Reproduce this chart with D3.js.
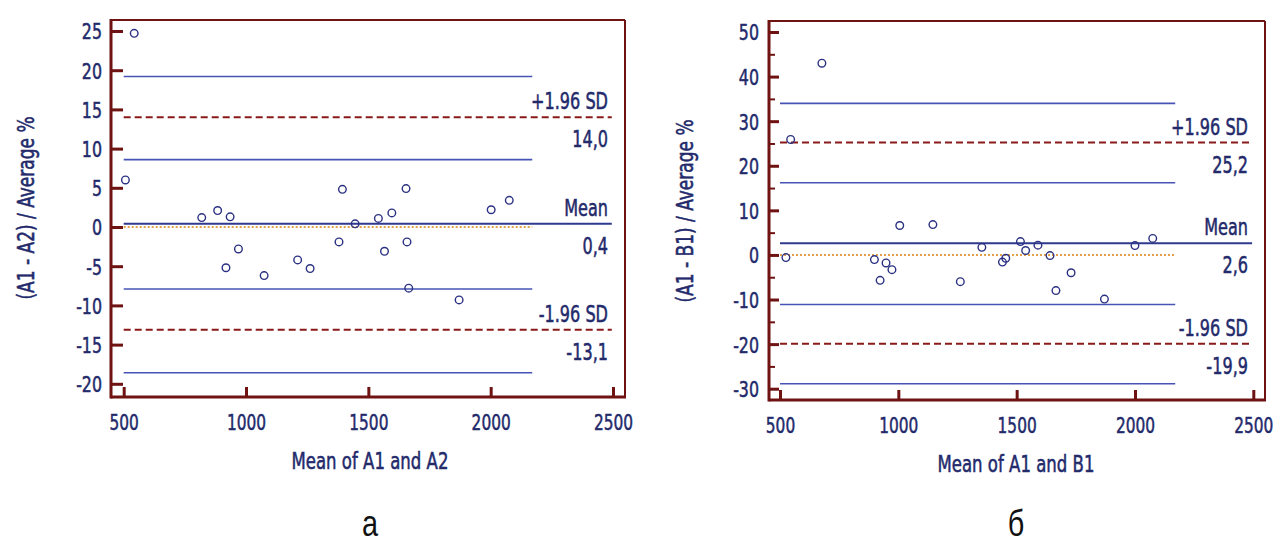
<!DOCTYPE html>
<html><head><meta charset="utf-8">
<script src="https://cdn.jsdelivr.net/npm/d3@7"></script>
<style>body{margin:0;background:#fff} svg{display:block}</style>
</head><body><svg id="c" width="1277" height="551"></svg>
<script>
// ---------- data ----------
const xTicks = [500, 1000, 1500, 2000, 2500];
const yTicksA = [-20, -15, -10, -5, 0, 5, 10, 15, 20, 25];
const yTicksB = [-30, -20, -10, 0, 10, 20, 30, 40, 50];
const yMinorB = [-25, -15, -5, 5, 15, 25, 35, 45];

// panel a: mean of A1 and A2 vs (A1-A2)/average %
const meanA = [543, 507, 819, 884, 935, 918, 969, 1074, 1211, 1262, 1380, 1394, 1446, 1541, 1566, 1596, 1654, 1658, 1665, 1871, 2002, 2076];
const diffA = [24.7, 6.0, 1.2, 2.1, 1.3, -5.2, -2.8, -6.2, -4.2, -5.3, -1.9, 4.8, 0.4, 1.1, -3.1, 1.8, 4.9, -1.9, -7.8, -9.3, 2.2, 3.4];
const biasA = 0.4, upperA = 14.0, lowerA = -13.1;
const ciA = [19.2, 8.6, -7.9, -18.6];

// panel b: mean of A1 and B1 vs (A1-B1)/average %
const meanB = [677, 545, 525, 899, 923, 948, 973, 1006, 1146, 1262, 1353, 1440, 1454, 1516, 1538, 1590, 1641, 1666, 1730, 1871, 2000, 2075];
const diffB = [43.0, 25.9, -0.6, -1.05, -5.7, -1.8, -3.3, 6.6, 6.8, -6.0, 1.7, -1.6, -0.75, 3.0, 1.0, 2.2, -0.15, -8.0, -4.0, -9.9, 2.1, 3.7];
const biasB = 2.6, upperB = 25.2, lowerB = -19.9;
const ciB = [34.0, 16.2, -11.1, -28.9];

const ciXRange = [500, 2170];
const refXRange = [500, 2495];
const fmt = v => v.toFixed(1).replace(".", ",");
const tickFmt = d => String(d);

// ---------- styles ----------
const FONT = "'DejaVu Sans','Liberation Sans',sans-serif";
const NAVY = "#232a6b";
const FRAME = "#6e1212";
const BLUE = "#4754b6";
const DRED = "#8a1a1a";
const ORANGE = "#e3a24a";

const svg = d3.select("#c");

// horizontal condensing of a text, keeping its anchor point in place
function squeeze(sel, k) {
  sel.each(function () {
    const t = d3.select(this);
    const x = +t.attr("x") || 0;
    t.attr("x", x / k);
    const tr = t.attr("transform") || "";
    t.attr("transform", (tr + ` scale(${k},1)`).trim());
  });
}
function heavy(sel) {
  sel.attr("stroke", NAVY).attr("stroke-width", 0.55).attr("paint-order", "fill");
}

function panel(cfg) {
  const g = svg.append("g");
  const x = d3.scaleLinear().domain([500, 2500]).range(cfg.xr);
  const y = d3.scaleLinear().domain(cfg.yd).range(cfg.yr);
  const f = cfg.frame; // [x0,y0,x1,y1]

  // frame
  g.append("line").attr("x1", f[0]).attr("x2", f[2]).attr("y1", f[1]).attr("y2", f[1]).attr("stroke", FRAME).attr("stroke-width", 2);
  g.append("line").attr("x1", f[2]).attr("x2", f[2]).attr("y1", f[1]).attr("y2", f[3]).attr("stroke", FRAME).attr("stroke-width", 2);
  g.append("line").attr("x1", f[0]).attr("x2", f[0]).attr("y1", f[1] - 1).attr("y2", f[3] + 1.5).attr("stroke", FRAME).attr("stroke-width", 3);
  g.append("line").attr("x1", f[0]).attr("x2", f[2] + 1).attr("y1", f[3]).attr("y2", f[3]).attr("stroke", FRAME).attr("stroke-width", 3);

  // y axis
  const ya = g.append("g").attr("transform", `translate(${f[0]},0)`)
    .call(d3.axisLeft(y).tickValues(cfg.yTicks).tickSize(-cfg.tick).tickPadding(cfg.ypad).tickFormat(tickFmt));
  ya.select(".domain").remove();
  ya.selectAll(".tick line").attr("stroke", FRAME).attr("stroke-width", 3);
  ya.selectAll(".tick text").attr("fill", NAVY).style("font-family", FONT).style("font-size", "22px").attr("dy", "0.36em")
    .call(heavy).call(squeeze, 0.72);
  if (cfg.yMinor) {
    const ym = g.append("g").attr("transform", `translate(${f[0]},0)`)
      .call(d3.axisLeft(y).tickValues(cfg.yMinor).tickSize(-6).tickFormat(""));
    ym.select(".domain").remove();
    ym.selectAll(".tick line").attr("stroke", FRAME).attr("stroke-width", 2);
  }

  // x axis
  const xa = g.append("g").attr("transform", `translate(0,${f[3]})`)
    .call(d3.axisBottom(x).tickValues(xTicks).tickSize(-10).tickPadding(22).tickFormat(tickFmt));
  xa.select(".domain").remove();
  xa.selectAll(".tick line").attr("stroke", FRAME).attr("stroke-width", 3);
  xa.selectAll(".tick text").attr("fill", NAVY).style("font-family", FONT).style("font-size", "22px").attr("dy", "0.5em")
    .call(heavy).call(squeeze, 0.7);

  // CI lines
  g.selectAll(".ci").data(cfg.ci).enter().append("line")
    .attr("x1", x(ciXRange[0])).attr("x2", x(ciXRange[1]))
    .attr("y1", d => y(d)).attr("y2", d => y(d))
    .attr("stroke", BLUE).attr("stroke-width", 1.6);
  // zero line
  g.append("line").attr("x1", x(ciXRange[0])).attr("x2", x(ciXRange[1]))
    .attr("y1", y(0)).attr("y2", y(0))
    .attr("stroke", ORANGE).attr("stroke-width", 2).attr("stroke-dasharray", "2,2");
  // limits of agreement
  g.selectAll(".loa").data([cfg.upper, cfg.lower]).enter().append("line")
    .attr("x1", x(refXRange[0])).attr("x2", x(refXRange[1]))
    .attr("y1", d => y(d)).attr("y2", d => y(d))
    .attr("stroke", DRED).attr("stroke-width", 2).attr("stroke-dasharray", "7,4");
  // mean line
  g.append("line").attr("x1", x(refXRange[0])).attr("x2", x(refXRange[1]))
    .attr("y1", y(cfg.bias)).attr("y2", y(cfg.bias))
    .attr("stroke", "#2e3a8e").attr("stroke-width", 2);

  // labels
  const lab = [
    {t: "+1.96 SD", v: cfg.upper, dy: -8},
    {t: fmt(cfg.upper), v: cfg.upper, dy: 30},
    {t: "Mean", v: cfg.bias, dy: -8},
    {t: fmt(cfg.bias), v: cfg.bias, dy: 30},
    {t: "-1.96 SD", v: cfg.lower, dy: -8},
    {t: fmt(cfg.lower), v: cfg.lower, dy: 30}
  ];
  g.selectAll(".lab").data(lab).enter().append("text")
    .attr("x", cfg.labX).attr("y", d => y(d.v) + d.dy)
    .attr("text-anchor", "end").attr("fill", NAVY)
    .style("font-family", FONT).style("font-size", "23px")
    .text(d => d.t).call(heavy).call(squeeze, 0.7);

  // points
  g.selectAll(".pt").data(cfg.mx.map((m, i) => [m, cfg.dy[i]])).enter().append("circle")
    .attr("cx", d => x(d[0])).attr("cy", d => y(d[1])).attr("r", 3.8)
    .attr("fill", "none").attr("stroke", "#2b3182").attr("stroke-width", 1.4);

  // axis titles
  g.append("text").attr("transform", `translate(${cfg.ytx},${cfg.yty}) rotate(-90)`)
    .attr("text-anchor", "middle").attr("dy", "0.35em").attr("fill", NAVY)
    .style("font-family", FONT).style("font-size", "23px").text(cfg.ytitle).call(heavy).call(squeeze, 0.74);
  g.append("text").attr("x", cfg.xtx).attr("y", cfg.xty)
    .attr("text-anchor", "middle").attr("fill", NAVY)
    .style("font-family", FONT).style("font-size", "23px").text(cfg.xtitle).call(heavy).call(squeeze, 0.72);
  // panel letter
  g.append("text").attr("x", cfg.xtx).attr("y", 536)
    .attr("text-anchor", "middle").attr("fill", "#111")
    .style("font-family", "'Liberation Sans','Open Sans',sans-serif").style("font-size", "37px").text(cfg.letter)
    .call(squeeze, 0.78);
}

panel({
  frame: [111, 20, 625, 397], xr: [123.7, 613], yd: [0, 25], yr: [227, 31],
  yTicks: yTicksA, tick: 12, ypad: 9, ci: ciA, upper: upperA, lower: lowerA, bias: biasA,
  mx: meanA, dy: diffA, labX: 608, ytx: 26, yty: 208, xtx: 370, xty: 469,
  ytitle: "(A1 - A2) / Average %", xtitle: "Mean of A1 and A2", letter: "а"
});
panel({
  frame: [769, 21, 1265, 400], xr: [780, 1253.3], yd: [-30, 50], yr: [388.7, 32],
  yTicks: yTicksB, yMinor: yMinorB, tick: 10, ypad: 10, ci: ciB, upper: upperB, lower: lowerB, bias: biasB,
  mx: meanB, dy: diffB, labX: 1248, ytx: 685, yty: 211, xtx: 1016, xty: 472,
  ytitle: "(A1 - B1) / Average %", xtitle: "Mean of A1 and B1", letter: "б"
});
</script></body></html>
